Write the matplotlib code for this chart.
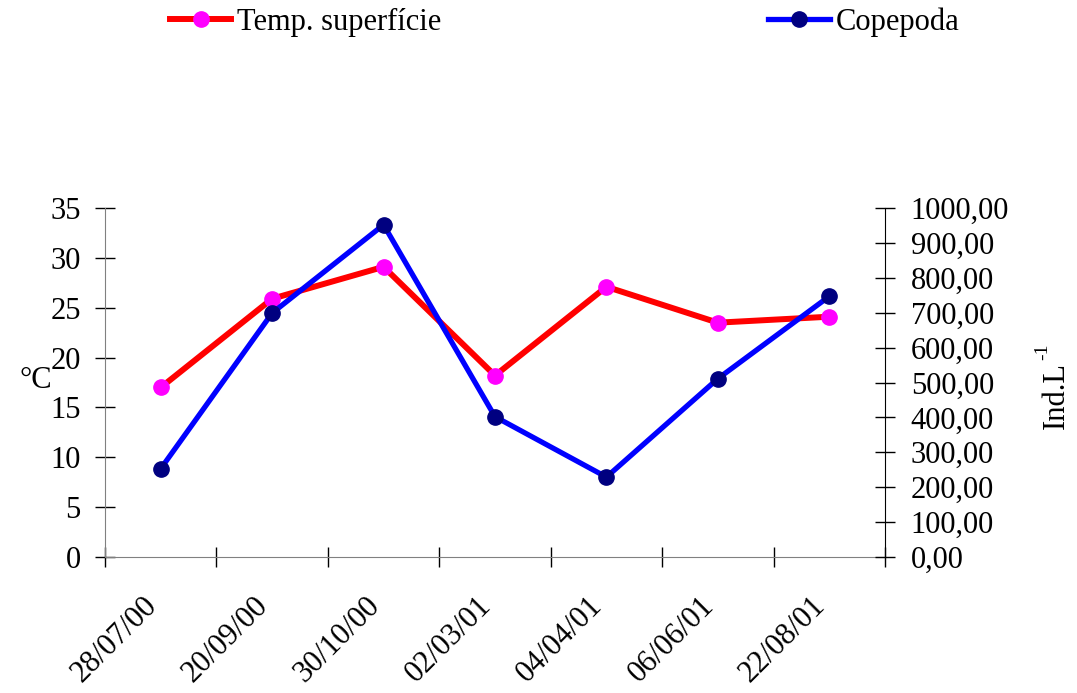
import matplotlib.pyplot as plt
import matplotlib.transforms as mtransforms
from matplotlib.lines import Line2D

plt.rcParams['font.family'] = ['Liberation Serif', 'DejaVu Serif']

dates = ['28/07/00', '20/09/00', '30/10/00', '02/03/01', '04/04/01', '06/06/01', '22/08/01']
temp_superficie = [17.0, 25.9, 29.1, 18.2, 27.1, 23.5, 24.1]
copepoda = [253, 699, 952, 402, 229, 511, 747]

fig = plt.figure(figsize=(10.77, 6.93), dpi=100)
ax = fig.add_axes([105 / 1077, 1 - 557 / 693, 780 / 1077, 349 / 693])
ax2 = ax.twinx()

x = [i + 0.5 for i in range(len(dates))]
ax.plot(x, temp_superficie, color='red', lw=4.3, marker='o', ms=11,
        mfc='#ff00ff', mec='#ff00ff', zorder=3)
ax2.plot(x, copepoda, color='blue', lw=3.8, marker='o', ms=11,
         mfc='#000080', mec='#000080', zorder=3)

ax.set_xlim(0, len(dates))
ax.set_ylim(0, 35)
ax2.set_ylim(0, 1000)
ax.set_yticks(range(0, 36, 5))
ax2.set_yticks(range(0, 1001, 100))
ax2.set_yticklabels([f'{v:.2f}'.replace('.', ',') for v in range(0, 1001, 100)])

ax.set_xticks(range(len(dates) + 1))
ax.set_xticklabels([])
ax.set_xticks(x, minor=True)
ax.set_xticklabels(dates, minor=True, rotation=45, ha='right', va='center',
                   rotation_mode='anchor', fontsize=22)
ax.tick_params(axis='x', which='minor', length=0, pad=32)
ax.tick_params(axis='x', which='major', direction='inout', length=15, width=1)
ax.tick_params(axis='y', direction='inout', length=15, width=1, labelsize=22, pad=10)
ax2.tick_params(axis='y', direction='inout', length=15, width=1, labelsize=22, pad=11)

# nudge the rotated date labels a little to the left
shift = mtransforms.ScaledTranslation(-8 / 100, 0, fig.dpi_scale_trans)
for lbl in ax.get_xticklabels(minor=True):
    lbl.set_transform(lbl.get_transform() + shift)

for a in (ax, ax2):
    a.spines['top'].set_visible(False)
ax.spines['left'].set_color('#808080')
ax.spines['bottom'].set_color('#808080')
ax.spines['right'].set_visible(False)
ax2.spines['left'].set_visible(False)
ax2.spines['bottom'].set_visible(False)

fig.text(36 / 1077, 1 - 380 / 693, '°C', fontsize=22, ha='center', va='center')
fig.text(1056 / 1077, 1 - 395 / 693, 'Ind.L', fontsize=22, rotation=90,
         ha='center', va='center')
fig.text(1043 / 1077, 1 - 352 / 693, '-1', fontsize=14, rotation=90,
         ha='center', va='center')

handles = [
    Line2D([], [], color='red', lw=4.3, marker='o', ms=11, mfc='#ff00ff', mec='#ff00ff'),
    Line2D([], [], color='blue', lw=3.8, marker='o', ms=11, mfc='#000080', mec='#000080'),
]
fig.legend(handles, ['Temp. superfície', 'Copepoda'], ncol=2, frameon=False,
           loc='center left', bbox_to_anchor=(170 / 1077, 1 - 22 / 693),
           borderpad=0, borderaxespad=0, handlelength=2.0, handletextpad=0.2,
           columnspacing=10.7, fontsize=22)

fig.savefig('out.png', dpi=100)
